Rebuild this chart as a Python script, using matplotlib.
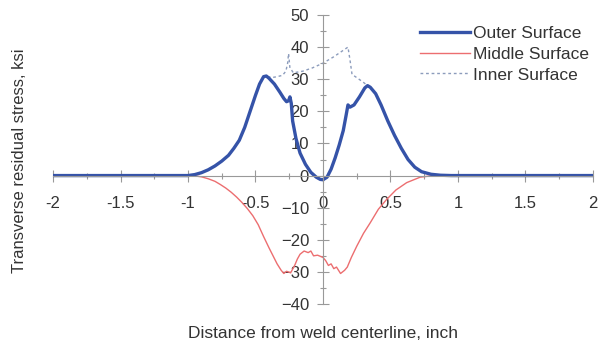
import matplotlib.pyplot as plt
import numpy as np
from matplotlib.ticker import MultipleLocator

plt.rcParams['font.family'] = ['Liberation Sans', 'DejaVu Sans']

# distance from weld centerline (inch) and stress (ksi)
outer_x = [-2.0, -1.5, -1.0, -0.95, -0.9, -0.85, -0.8, -0.75, -0.7, -0.66, -0.62, -0.58,
           -0.54, -0.5, -0.47, -0.44, -0.42, -0.4, -0.36, -0.32, -0.29, -0.27, -0.255,
           -0.245, -0.235, -0.225, -0.2, -0.17, -0.13, -0.09, -0.05, -0.02, 0.0, 0.03,
           0.06, 0.09, 0.12, 0.15, 0.17, 0.185, 0.2, 0.23, 0.27, 0.31, 0.33, 0.35, 0.39,
           0.43, 0.48, 0.53, 0.58, 0.63, 0.68, 0.73, 0.8, 0.87, 0.95, 1.5, 2.0]
outer_y = [0, 0, 0, 0.3, 0.9, 1.8, 3, 4.5, 6.3, 8.5, 11, 15,
           20, 25, 28.5, 30.8, 31, 30.3, 28.5, 26, 24, 23, 23.3,
           24.5, 22.5, 17, 11.5, 7, 3.5, 1, -0.5, -1.2, -1.3, -0.5,
           2, 5.5, 9.5, 14, 18.5, 22, 21.3, 22, 24.5, 27.3, 28, 27.5, 25.5,
           22, 17, 12.5, 8.5, 5, 2.6, 1.2, 0.4, 0.1, 0, 0, 0]

inner_x = [-2.0, -1.5, -1.0, -0.95, -0.9, -0.85, -0.8, -0.75, -0.7, -0.66, -0.62, -0.58,
           -0.54, -0.5, -0.47, -0.44, -0.42, -0.38, -0.34, -0.3, -0.275, -0.262, -0.255,
           -0.245, -0.235, -0.22, -0.15, -0.08, 0.0, 0.08, 0.15, 0.185, 0.2, 0.215, 0.25,
           0.3, 0.33, 0.35, 0.39, 0.43, 0.48, 0.53, 0.58, 0.63, 0.68, 0.73, 0.8, 0.87,
           0.95, 1.5, 2.0]
inner_y = [0, 0, 0, 0.3, 0.9, 1.8, 3, 4.5, 6.3, 8.5, 11, 15,
           20, 25, 28.5, 30.8, 31, 30.5, 30.8, 31.2, 32.5, 35, 38,
           33.5, 33, 32, 32.5, 33.5, 35, 37, 39, 40, 36, 31.5, 30.5,
           29, 28, 27.5, 25.5, 22, 17, 12.5, 8.5, 5, 2.6, 1.2, 0.4, 0.1,
           0, 0, 0]

middle_x = [-2.0, -1.5, -1.0, -0.95, -0.9, -0.85, -0.8, -0.76, -0.72, -0.68, -0.64, -0.6,
            -0.56, -0.52, -0.48, -0.44, -0.4, -0.37, -0.34, -0.31, -0.29, -0.27, -0.24,
            -0.21, -0.19, -0.17, -0.14, -0.11, -0.09, -0.07, -0.04, 0.0, 0.02, 0.04, 0.06,
            0.08, 0.1, 0.13, 0.16, 0.18, 0.21, 0.25, 0.3, 0.35, 0.41, 0.47, 0.54, 0.62,
            0.72, 0.8, 0.9, 1.0, 1.5, 2.0]
middle_y = [0, 0, 0, -0.1, -0.4, -1, -1.8, -2.8, -3.9, -5.2, -6.7, -8.4,
            -10.3, -12.5, -15.3, -19, -22.5, -25, -27.5, -29.5, -30.5, -29.8, -30.3,
            -28, -26, -24.5, -23.5, -24, -23.5, -25, -24.8, -25.5, -26.5, -28, -27.5,
            -29, -28.5, -30.5, -29.5, -28.5, -25.5, -22, -18, -14.7, -10.5, -7.5, -4.5, -2.2,
            -0.5, -0.1, 0, 0, 0, 0]

fig = plt.figure(figsize=(5.98, 3.5), dpi=100)
ax = fig.add_axes([53/598, 46/350, 540/598, 289/350])

ax.plot(inner_x, inner_y, color='#8c9cbc', lw=1.0, ls=(0, (2, 2)), label='Inner Surface')
ax.plot(middle_x, middle_y, color='#ec6e70', lw=1.0, label='Middle Surface')
ax.plot(outer_x, outer_y, color='#3553a8', lw=2.4, label='Outer Surface')

ax.set_xlim(-2, 2)
ax.set_ylim(-40, 50)
for s in ['top', 'right']:
    ax.spines[s].set_visible(False)
ax.spines['left'].set_position(('data', 0))
ax.spines['bottom'].set_position(('data', 0))
ax.spines['left'].set_color('#999999')
ax.spines['bottom'].set_color('#999999')
ax.spines['left'].set_linewidth(0.8)
ax.spines['bottom'].set_linewidth(0.8)

ax.xaxis.set_major_locator(MultipleLocator(0.5))
ax.xaxis.set_minor_locator(MultipleLocator(0.25))
ax.yaxis.set_major_locator(MultipleLocator(10))
ax.yaxis.set_minor_locator(MultipleLocator(5))
ax.tick_params(which='major', direction='inout', length=8, color='#999999', width=0.8,
               labelsize=12, labelcolor='#333333')
ax.tick_params(which='minor', direction='inout', length=5, color='#999999', width=0.8)
ax.tick_params(axis='x', pad=11)
ax.tick_params(axis='y', pad=6)
ax.set_xticks([-2, -1.5, -1, -0.5, 0, 0.5, 1, 1.5, 2])
ax.set_xticklabels(['-2', '-1.5', '-1', '-0.5', '0', '0.5', '1', '1.5', '2'])

fig.text(323/598, 1 - 333/350, 'Distance from weld centerline, inch', ha='center', va='center',
         fontsize=12.5, color='#333333')
fig.text(20/598, 1 - 161/350, 'Transverse residual stress, ksi', ha='center', va='center',
         rotation=90, fontsize=12, color='#333333')

h, l = ax.get_legend_handles_labels()
order = [2, 1, 0]
fig.legend([h[i] for i in order], [l[i] for i in order], loc='upper left',
           bbox_to_anchor=(420/598, 1 - 26/350), frameon=False, fontsize=12.5,
           borderpad=0, borderaxespad=0,
           handlelength=2.9, handletextpad=0.15, labelspacing=0.32, labelcolor='#333333')

fig.savefig('out.png', dpi=100)
